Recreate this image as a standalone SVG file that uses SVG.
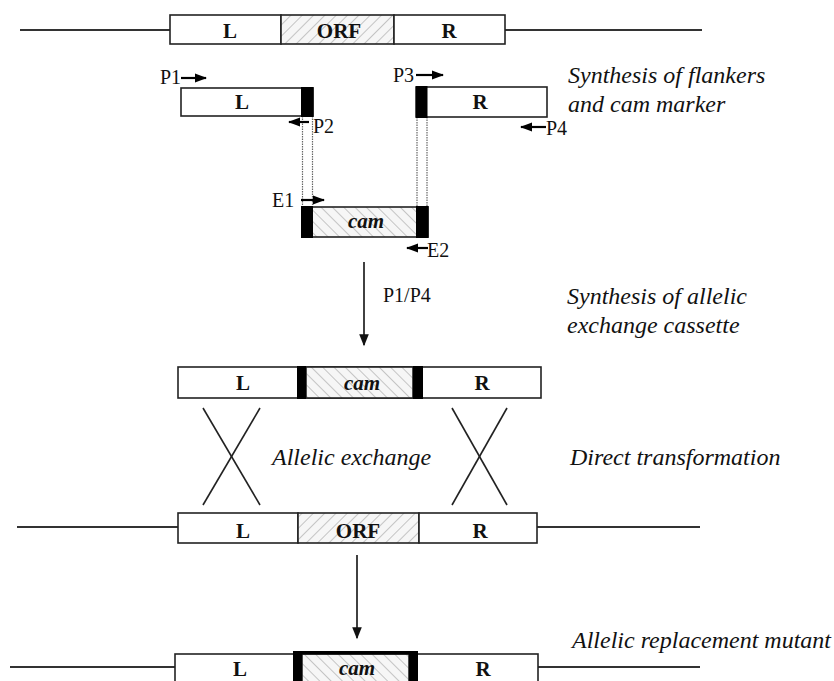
<svg xmlns="http://www.w3.org/2000/svg" width="834" height="681" viewBox="0 0 834 681">
<style>
  .box{fill:#fff;stroke:#222;stroke-width:1.6}
  .orf{fill:url(#hatchF);stroke:#222;stroke-width:1.6}
  .cam{fill:url(#hatchB);stroke:#222;stroke-width:1.6}
  .blk{fill:#000}
  .dna{stroke:#333;stroke-width:2;fill:none}
  .lbl{font-family:"Liberation Serif",serif;font-weight:bold;font-size:21px;fill:#111;text-anchor:middle}
  .camt{font-family:"Liberation Serif",serif;font-weight:bold;font-style:italic;font-size:21px;fill:#111;text-anchor:middle}
  .pr{font-family:"Liberation Serif",serif;font-size:20px;fill:#111}
  .cap{font-family:"Liberation Serif",serif;font-style:italic;font-size:24px;fill:#111}
  .parr{stroke:#000;stroke-width:2.2;fill:none;marker-end:url(#ah)}
  .dot{stroke:#666;stroke-width:1.2;stroke-dasharray:1.5 1;fill:none}
  .arr{stroke:#111;stroke-width:1.6;fill:none;marker-end:url(#ahBig)}
  .x{stroke:#222;stroke-width:1.6;fill:none}
</style>
<defs>
  <pattern id="hatchF" patternUnits="userSpaceOnUse" width="8" height="8" patternTransform="rotate(45)">
    <rect width="8" height="8" fill="#f6f6f6"/>
    <line x1="0" y1="0" x2="0" y2="8" stroke="#c4c4c4" stroke-width="2"/>
  </pattern>
  <pattern id="hatchB" patternUnits="userSpaceOnUse" width="8" height="8" patternTransform="rotate(-45)">
    <rect width="8" height="8" fill="#f6f6f6"/>
    <line x1="0" y1="0" x2="0" y2="8" stroke="#c4c4c4" stroke-width="2"/>
  </pattern>
  <marker id="ah" viewBox="0 0 12 10" refX="11" refY="5" markerWidth="12" markerHeight="10" orient="auto" markerUnits="userSpaceOnUse">
    <path d="M0,0.5 L12,5 L0,9.5 Z" fill="#000"/>
  </marker>
  <marker id="ahBig" viewBox="0 0 10 10" refX="9" refY="5" markerWidth="13" markerHeight="12" orient="auto" markerUnits="userSpaceOnUse">
    <path d="M0,1 L10,5 L0,9 Z" fill="#111"/>
  </marker>
</defs>
<rect width="834" height="681" fill="#fff"/>

<g id="connectors">
  <line class="dna" x1="20" y1="30" x2="170" y2="30"/>
  <line class="dna" x1="505" y1="30" x2="702" y2="30"/>
  <line class="dna" x1="17" y1="527" x2="178" y2="527"/>
  <line class="dna" x1="537" y1="527" x2="700" y2="527"/>
  <line class="dna" x1="10" y1="667" x2="175" y2="667"/>
  <line class="dna" x1="538" y1="667" x2="700" y2="667"/>
  <line class="dot" x1="302.5" y1="116" x2="302.5" y2="207"/>
  <line class="dot" x1="312.5" y1="116" x2="312.5" y2="207"/>
  <line class="dot" x1="417" y1="117" x2="417" y2="207"/>
  <line class="dot" x1="427" y1="117" x2="427" y2="207"/>
  <line class="arr" x1="364" y1="262" x2="364" y2="345"/>
  <line class="arr" x1="357" y1="555" x2="357" y2="638"/>
  <line class="x" x1="203" y1="408" x2="260" y2="505"/>
  <line class="x" x1="260" y1="408" x2="203" y2="505"/>
  <line class="x" x1="452" y1="408" x2="507" y2="505"/>
  <line class="x" x1="507" y1="408" x2="452" y2="505"/>
</g>

<g id="primers">
  <line class="parr" x1="181" y1="78" x2="206" y2="78"/>
  <text class="pr" x="160" y="84">P1</text>
  <line class="parr" x1="309" y1="122" x2="289" y2="122"/>
  <text class="pr" x="313" y="133">P2</text>
  <line class="parr" x1="416" y1="75" x2="443" y2="75"/>
  <text class="pr" x="393" y="82">P3</text>
  <line class="parr" x1="546" y1="127" x2="521" y2="127"/>
  <text class="pr" x="546" y="135">P4</text>
  <line class="parr" x1="301" y1="200" x2="324" y2="200"/>
  <text class="pr" x="272" y="207">E1</text>
  <line class="parr" x1="428" y1="248" x2="407" y2="248"/>
  <text class="pr" x="427" y="257">E2</text>
  <text class="pr" x="383" y="302">P1/P4</text>
</g>

<g id="wildtype-locus">
  <rect class="box" x="170" y="15" width="111" height="29"/>
  <rect class="orf" x="281" y="15" width="113" height="29"/>
  <rect class="box" x="394" y="15" width="111" height="29"/>
  <text class="lbl" x="230" y="38">L</text>
  <text class="lbl" x="339" y="38">ORF</text>
  <text class="lbl" x="449" y="38">R</text>
</g>

<g id="flank-L">
  <rect class="box" x="181" y="88" width="132" height="28"/>
  <rect class="blk" x="301" y="87" width="12.5" height="30"/>
  <text class="lbl" x="242" y="109">L</text>
</g>

<g id="flank-R">
  <rect class="box" x="416" y="87" width="131" height="30"/>
  <rect class="blk" x="416" y="86" width="11.5" height="32"/>
  <text class="lbl" x="480" y="109">R</text>
</g>

<g id="cam-marker">
  <rect class="cam" x="302" y="207" width="126" height="30"/>
  <rect class="blk" x="301" y="206" width="12" height="32"/>
  <rect class="blk" x="416" y="206" width="12.5" height="32"/>
  <text class="camt" x="366" y="228">cam</text>
</g>

<g id="cassette">
  <rect class="box" x="178" y="367" width="363" height="31"/>
  <rect class="cam" x="306" y="367" width="107" height="31"/>
  <rect class="blk" x="297" y="366" width="9" height="33"/>
  <rect class="blk" x="413" y="366" width="10" height="33"/>
  <text class="lbl" x="243" y="390">L</text>
  <text class="camt" x="362" y="390">cam</text>
  <text class="lbl" x="482" y="390">R</text>
</g>

<g id="chromosome-target">
  <rect class="box" x="178" y="513" width="120" height="30"/>
  <rect class="orf" x="298" y="513" width="121" height="30"/>
  <rect class="box" x="419" y="513" width="118" height="30"/>
  <text class="lbl" x="243" y="538">L</text>
  <text class="lbl" x="358" y="538">ORF</text>
  <text class="lbl" x="480" y="538">R</text>
</g>

<g id="mutant">
  <rect class="box" x="175" y="654" width="363" height="40"/>
  <rect class="cam" x="302" y="654" width="107" height="40"/>
  <rect class="blk" x="293" y="651" width="9" height="40"/>
  <rect class="blk" x="409" y="651" width="9" height="40"/>
  <rect class="blk" x="293" y="651" width="125" height="3.5"/>
  <text class="lbl" x="240" y="676">L</text>
  <text class="camt" x="357" y="675">cam</text>
  <text class="lbl" x="483" y="676">R</text>
</g>

<g id="captions">
  <text class="cap" x="568" y="83">Synthesis of flankers</text>
  <text class="cap" x="568" y="112">and cam marker</text>
  <text class="cap" x="567" y="304">Synthesis of allelic</text>
  <text class="cap" x="567" y="333">exchange cassette</text>
  <text class="cap" x="272" y="465">Allelic exchange</text>
  <text class="cap" x="570" y="465">Direct transformation</text>
  <text class="cap" x="572" y="648">Allelic replacement mutant</text>
</g>
</svg>
